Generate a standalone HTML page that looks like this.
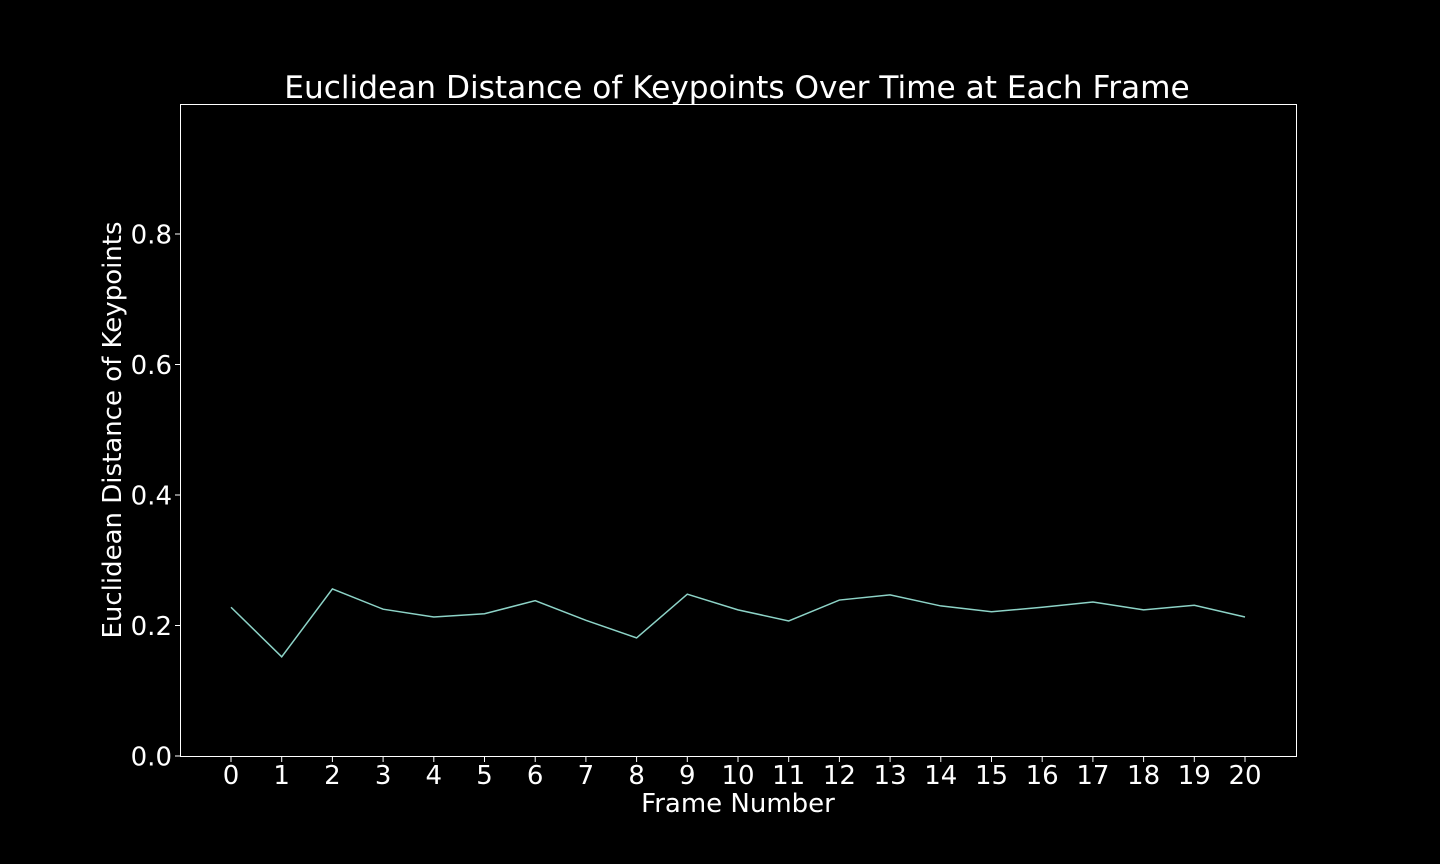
<!DOCTYPE html>
<html><head><meta charset="utf-8"><style>
html,body{margin:0;padding:0;background:#000;width:1440px;height:864px;overflow:hidden}
svg text{font-family:"DejaVu Sans","Liberation Sans",sans-serif;fill:#fff}
</style></head><body>
<svg id="chart" width="1440" height="864" xmlns="http://www.w3.org/2000/svg">
<rect width="1440" height="864" fill="#000"/>
<text x="737" y="98" font-size="31.2" text-anchor="middle">Euclidean Distance of Keypoints Over Time at Each Frame</text>
<rect x="180.5" y="104.5" width="1116" height="652" fill="none" stroke="#fff" stroke-width="1"/>
<g id="xticks"></g><g id="yticks"></g>
<text x="738" y="812" font-size="26" text-anchor="middle">Frame Number</text>
<text transform="translate(121,430) rotate(-90)" font-size="26" text-anchor="middle">Euclidean Distance of Keypoints</text>
<path id="series" fill="none" stroke="#8dd3c7" stroke-width="1.5"/>
</svg>
<script>
const frames = [0,1,2,3,4,5,6,7,8,9,10,11,12,13,14,15,16,17,18,19,20];
const distances = [0.228,0.152,0.256,0.225,0.213,0.218,0.238,0.208,0.181,0.248,0.224,0.207,0.239,0.247,0.230,0.221,0.228,0.236,0.224,0.231,0.213];
const yTickValues = [0.0,0.2,0.4,0.6,0.8];
const yTickLabels = ["0.0","0.2","0.4","0.6","0.8"];

const NS = "http://www.w3.org/2000/svg";
const xScale = v => 231 + (v - 0) * (1245 - 231) / 20;
const yScale = v => 756 - v * 652.5;

const xg = document.getElementById('xticks');
frames.forEach(f => {
  const x = xScale(f);
  const l = document.createElementNS(NS, 'line');
  l.setAttribute('x1', x); l.setAttribute('x2', x);
  l.setAttribute('y1', 757); l.setAttribute('y2', 762);
  l.setAttribute('stroke', '#fff');
  
  
  xg.appendChild(l);
  const t = document.createElementNS(NS, 'text');
  t.setAttribute('x', x); t.setAttribute('y', 784);
  t.setAttribute('font-size', '26'); t.setAttribute('text-anchor', 'middle');
  t.textContent = String(f);
  
  
  xg.appendChild(t);
});
const yg = document.getElementById('yticks');
yTickValues.forEach((v, i) => {
  const y = yScale(v);
  const l = document.createElementNS(NS, 'line');
  l.setAttribute('x1', 175); l.setAttribute('x2', 180);
  l.setAttribute('y1', y); l.setAttribute('y2', y);
  l.setAttribute('stroke', '#fff');
  
  
  yg.appendChild(l);
  const t = document.createElementNS(NS, 'text');
  t.setAttribute('x', 172); t.setAttribute('y', y + 9.5);
  t.setAttribute('font-size', '26'); t.setAttribute('text-anchor', 'end');
  t.textContent = yTickLabels[i];
  
  
  yg.appendChild(t);
});
document.getElementById('series').setAttribute('d',
  frames.map((f, i) => (i ? 'L' : 'M') + xScale(f) + ',' + yScale(distances[i])).join(' '));
</script>
</body></html>
